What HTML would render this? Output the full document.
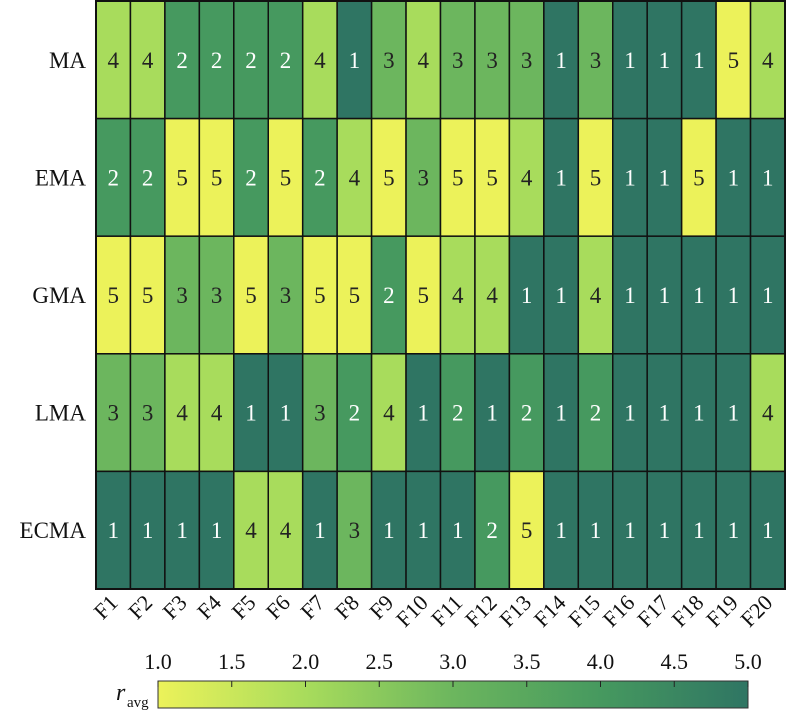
<!DOCTYPE html>
<html><head><meta charset="utf-8"><style>
body{margin:0;background:#fff;width:800px;height:716px;overflow:hidden;font-family:"Liberation Serif",serif}
</style></head><body>
<svg id="chart" width="800" height="716" xmlns="http://www.w3.org/2000/svg">
<defs><linearGradient id="cg" x1="0" x2="1" y1="0" y2="0">
<stop offset="0" stop-color="#ecf25a"/><stop offset="0.25" stop-color="#a8dc5c"/><stop offset="0.5" stop-color="#6cb65e"/><stop offset="0.75" stop-color="#46995f"/><stop offset="1" stop-color="#2f7563"/></linearGradient></defs>
</svg>
<script>
const rows=["MA","EMA","GMA","LMA","ECMA"];
const cols=["F1","F2","F3","F4","F5","F6","F7","F8","F9","F10","F11","F12","F13","F14","F15","F16","F17","F18","F19","F20"];
const vMA=[4,4,2,2,2,2,4,1,3,4,3,3,3,1,3,1,1,1,5,4];
const vEMA=[2,2,5,5,2,5,2,4,5,3,5,5,4,1,5,1,1,5,1,1];
const vGMA=[5,5,3,3,5,3,5,5,2,5,4,4,1,1,4,1,1,1,1,1];
const vLMA=[3,3,4,4,1,1,3,2,4,1,2,1,2,1,2,1,1,1,1,4];
const vECMA=[1,1,1,1,4,4,1,3,1,1,1,2,5,1,1,1,1,1,1,1];
const cbTicks=[1.0,1.5,2.0,2.5,3.0,3.5,4.0,4.5,5.0];
const values=[vMA,vEMA,vGMA,vLMA,vECMA];
const colors={1:"#2f7563",2:"#46995f",3:"#6cb65e",4:"#a8dc5c",5:"#ecf25a"};
const svg=document.getElementById("chart");
const NS="http://www.w3.org/2000/svg";
const L=96,R=785,T=1,B=589;
const cw=(R-L)/cols.length,rh=(B-T)/rows.length;
const xS=i=>L+i*cw, yS=j=>T+j*rh;
function mk(t,a){const e=document.createElementNS(NS,t);for(const k in a)e.setAttribute(k,a[k]);svg.appendChild(e);return e;}
values.forEach((arr,j)=>{arr.forEach((v,i)=>{
 const r=mk("rect",{x:xS(i),y:yS(j),width:cw,height:rh,fill:colors[v],stroke:"#111","stroke-width":1.5});
 
 
 const t=mk("text",{x:xS(i)+cw/2,y:yS(j)+rh/2+8,"text-anchor":"middle","font-size":23,fill:v<=2?"#fff":"#222"});
 t.textContent=v;
 
 
});});
rows.forEach((n,j)=>{const t=mk("text",{x:86,y:yS(j)+rh/2+8,"text-anchor":"end","font-size":23,fill:"#111"});t.textContent=n;
 
 });
cols.forEach((n,i)=>{const cx=xS(i)+cw/2+6,cy=604;const t=mk("text",{x:cx,y:cy,"text-anchor":"end","font-size":22,fill:"#111",transform:`rotate(-45 ${cx} ${cy})`});t.textContent=n;
 
 });
mk("rect",{x:L,y:T,width:R-L,height:B-T,fill:"none",stroke:"#111","stroke-width":2});
const cbL=158,cbR=748,cbT=681,cbB=708;
const cx=v=>cbL+(v-1)/4*(cbR-cbL);
const cb=mk("rect",{x:cbL,y:cbT,width:cbR-cbL,height:cbB-cbT,fill:"url(#cg)",stroke:"#333","stroke-width":1});


cbTicks.forEach(v=>{
 mk("line",{x1:cx(v),x2:cx(v),y1:cbT,y2:cbT+6,stroke:"#222","stroke-width":1});
 const t=mk("text",{x:cx(v),y:669,"text-anchor":"middle","font-size":22,fill:"#111"});t.textContent=v.toFixed(1);
 
 
});
const tt=mk("text",{x:116,y:700,"font-size":24,"font-style":"italic",fill:"#111"});tt.textContent="r";


const ts=mk("text",{x:127,y:707,"font-size":15,fill:"#111"});ts.textContent="avg";


</script>
</body></html>
